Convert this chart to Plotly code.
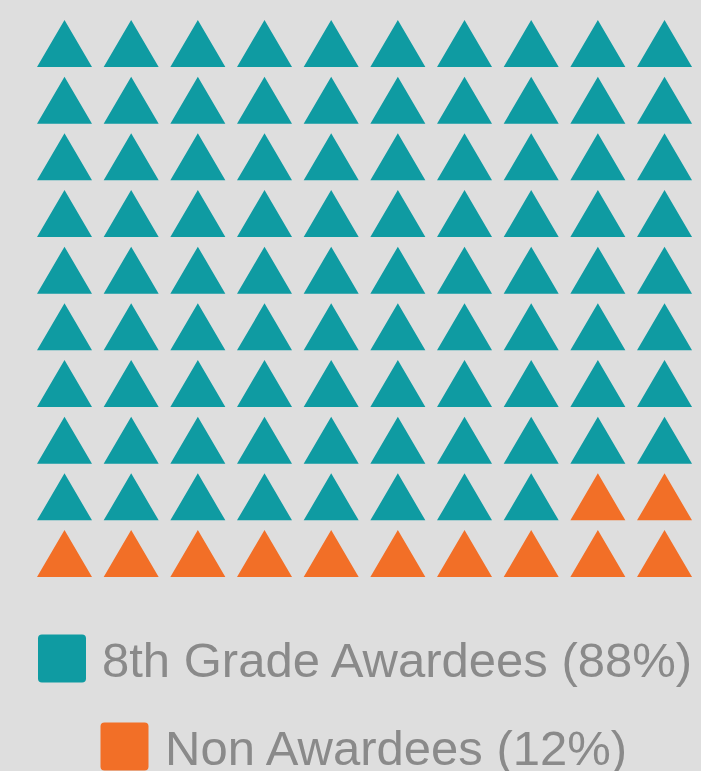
import plotly.graph_objects as go

# ---- data ----
categories = ["8th Grade Awardees", "Non Awardees"]
counts = [88, 12]
colors = ["#0f9ba2", "#f26f27"]
n_cols = 10
n_rows = 10

# ---- layout constants (pixels) ----
BG = "#dedede"
TEXT = "#8a8a8a"
W, H = 701, 771
col_pitch = 66.67
row_pitch = 56.67
x0_px = 64.5   # centre of first column
y0_px = 43.5   # vertical centre of first row
half_w = 27.5 / col_pitch
half_h = 23.5 / row_pitch

def px_x(p):
    return (p - x0_px) / col_pitch

def px_y(p):
    return (p - y0_px) / row_pitch

fig = go.Figure()
idx = 0
for cat, cnt, col in zip(categories, counts, colors):
    xs, ys = [], []
    for k in range(idx, idx + cnt):
        r, c = divmod(k, n_cols)
        xs += [c - half_w, c + half_w, c, c - half_w, None]
        ys += [r + half_h, r + half_h, r - half_h, r + half_h, None]
    idx += cnt
    fig.add_trace(go.Scatter(
        x=xs, y=ys, mode="lines", fill="toself", fillcolor=col,
        line=dict(width=0, color=col), name=cat, showlegend=False,
        hoverinfo="name"))

# ---- custom legend (large squares + text, each row centred) ----
total = sum(counts)
text_w = [588, 463]          # estimated rendered text widths
row_centres = [658.5, 746.5]
cx = 364.5
sq = 48
gap = 17
rad = 4
shapes, annotations = [], []
for cat, cnt, col, tw, cy in zip(categories, counts, colors, text_w, row_centres):
    left = cx - (sq + gap + tw) / 2
    x0, x1 = px_x(left), px_x(left + sq)
    y0, y1 = px_y(cy - sq / 2), px_y(cy + sq / 2)
    rx, ry = rad / col_pitch, rad / row_pitch
    path = (f"M{x0+rx},{y0} L{x1-rx},{y0} Q{x1},{y0} {x1},{y0+ry} "
            f"L{x1},{y1-ry} Q{x1},{y1} {x1-rx},{y1} L{x0+rx},{y1} "
            f"Q{x0},{y1} {x0},{y1-ry} L{x0},{y0+ry} Q{x0},{y0} {x0+rx},{y0} Z")
    shapes.append(dict(type="path", path=path, xref="x", yref="y",
                       fillcolor=col, line=dict(width=0), layer="above"))
    pct = round(100 * cnt / total)
    annotations.append(dict(
        x=px_x(left + sq + gap - 3), y=px_y(cy + 1), xref="x", yref="y",
        text=f"{cat} ({pct}%)", showarrow=False, xanchor="left", yanchor="middle",
        font=dict(family="Liberation Sans, Arial, sans-serif", size=49, color=TEXT)))

fig.update_layout(
    width=W, height=H, margin=dict(l=0, r=0, t=0, b=0),
    paper_bgcolor=BG, plot_bgcolor=BG,
    xaxis=dict(range=[px_x(0), px_x(W)], visible=False, fixedrange=True),
    yaxis=dict(range=[px_y(H), px_y(0)], visible=False, fixedrange=True),
    shapes=shapes, annotations=annotations, showlegend=False,
)

fig.write_html(
    "out.html",
    config={"displayModeBar": False},
    post_script=("document.body.style.margin='0';"
                 "document.body.style.overflow='hidden';"
                 f"document.body.style.background='{BG}';"),
)
